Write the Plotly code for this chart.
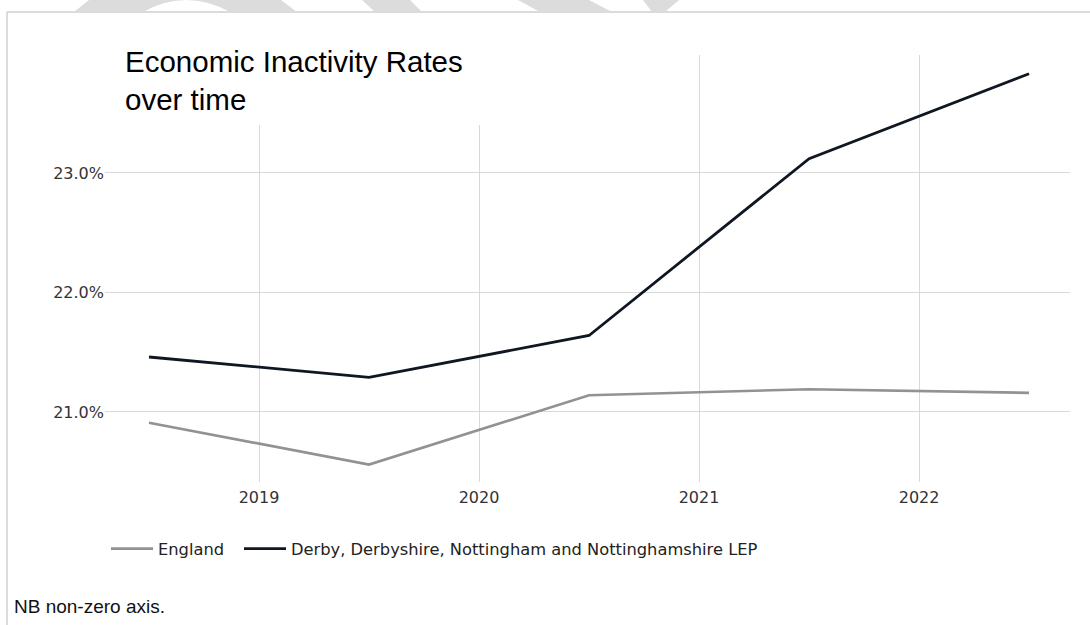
import plotly.graph_objects as go

W, H = 1090, 625

# ---- data ----
periods = [2018.5, 2019.5, 2020.5, 2021.5, 2022.5]
england = [20.91, 20.56, 21.14, 21.19, 21.16]
d2n2 = [21.46, 21.29, 21.64, 23.12, 23.83]
series_names = ["England", "Derby, Derbyshire, Nottingham and Nottinghamshire LEP"]
x_tickvals = [2019, 2020, 2021, 2022]
x_ticktext = ["2019", "2020", "2021", "2022"]
y_tickvals = [21.0, 22.0, 23.0]
y_ticktext = ["21.0%", "22.0%", "23.0%"]

def px_x(p):
    return p / W

def px_y(p):
    return 1 - p / H

fig = go.Figure()
fig.add_trace(go.Scatter(x=periods, y=england, mode="lines", name=series_names[0],
                         line=dict(color="#929292", width=2.6), legend="legend"))
fig.add_trace(go.Scatter(x=periods, y=d2n2, mode="lines", name=series_names[1],
                         line=dict(color="#0f1722", width=2.8), legend="legend2"))

tick_font = dict(family="DejaVu Sans", size=16, color="#333333")
legend_font = dict(family="DejaVu Sans", size=16.3, color="#222222")

fig.update_layout(
    width=W, height=H,
    margin=dict(l=0, r=0, t=0, b=0),
    paper_bgcolor="white", plot_bgcolor="white",
    showlegend=True,
    legend=dict(orientation="h", x=px_x(106), y=px_y(549), xanchor="left", yanchor="middle",
                font=legend_font, bgcolor="rgba(0,0,0,0)", itemwidth=42),
    legend2=dict(orientation="h", x=px_x(239), y=px_y(549), xanchor="left", yanchor="middle",
                 font=legend_font, bgcolor="rgba(0,0,0,0)", itemwidth=42),
    xaxis=dict(domain=[px_x(105), px_x(1070)], range=[2018.3, 2022.686],
               tickmode="array", tickvals=x_tickvals, ticktext=x_ticktext,
               showgrid=True, gridcolor="#d9d9d9", gridwidth=1, zeroline=False,
               showline=False, ticks="", tickfont=tick_font, anchor="y",
               ticklabelstandoff=4),
    yaxis=dict(domain=[px_y(482), px_y(55)], range=[20.414, 23.987],
               tickmode="array", tickvals=y_tickvals, ticktext=y_ticktext,
               showgrid=True, gridcolor="#d9d9d9", gridwidth=1, zeroline=False,
               showline=False, ticks="", tickfont=tick_font, anchor="x"),
)

shapes = []
# white box behind the title (covers gridlines)
shapes.append(dict(type="rect", xref="paper", yref="paper",
                   x0=px_x(105), x1=px_x(560), y0=px_y(125), y1=px_y(54),
                   fillcolor="white", line=dict(width=0), layer="above"))
# frame lines
shapes.append(dict(type="line", xref="paper", yref="paper",
                   x0=px_x(7), x1=1, y0=px_y(12), y1=px_y(12),
                   line=dict(color="#cfcfcf", width=1.5)))
shapes.append(dict(type="line", xref="paper", yref="paper",
                   x0=px_x(7), x1=px_x(7), y0=px_y(12), y1=0,
                   line=dict(color="#cfcfcf", width=1.5)))

# watermark fragments at the top
def path(pts):
    out = []
    for cmd, coords in pts:
        if cmd == "Q":
            (cx, cy), (ex, ey) = coords
            out.append(f"Q{px_x(cx):.5f},{px_y(cy):.5f} {px_x(ex):.5f},{px_y(ey):.5f}")
        else:
            x, y = coords
            out.append(f"{cmd}{px_x(x):.5f},{px_y(y):.5f}")
    return " ".join(out) + " Z"

wm = [
    [("M", (74, 12)), ("L", (89, 0)), ("L", (281, 0)), ("L", (297, 12)), ("L", (230, 12)),
     ("Q", ((186, -12), (143, 12)))],
    [("M", (362, 0)), ("L", (410, 0)), ("L", (422, 12)), ("L", (375, 12))],
    [("M", (518, 0)), ("L", (589, 0)), ("L", (612, 12)), ("L", (540, 12))],
    [("M", (643, 0)), ("L", (679, 0)), ("L", (665, 12)), ("L", (652, 12))],
]
for w in wm:
    shapes.append(dict(type="path", xref="paper", yref="paper", path=path(w),
                       fillcolor="#dcdcdc", line=dict(width=0), layer="above"))
fig.update_layout(shapes=shapes)

fig.add_annotation(xref="paper", yref="paper", x=px_x(123), y=px_y(80),
                   xanchor="left", yanchor="middle", align="left", showarrow=False,
                   text="Economic Inactivity Rates<br>over time",
                   font=dict(family="Liberation Sans", size=29.5, color="#000000"))
fig.add_annotation(xref="paper", yref="paper", x=px_x(12), y=px_y(606),
                   xanchor="left", yanchor="middle", align="left", showarrow=False,
                   text="NB non-zero axis.",
                   font=dict(family="Liberation Sans", size=19, color="#111111"))

fig.write_html("out.html", config={"displayModeBar": False},
               post_script="document.body.style.margin='0';document.body.style.overflow='hidden';")
